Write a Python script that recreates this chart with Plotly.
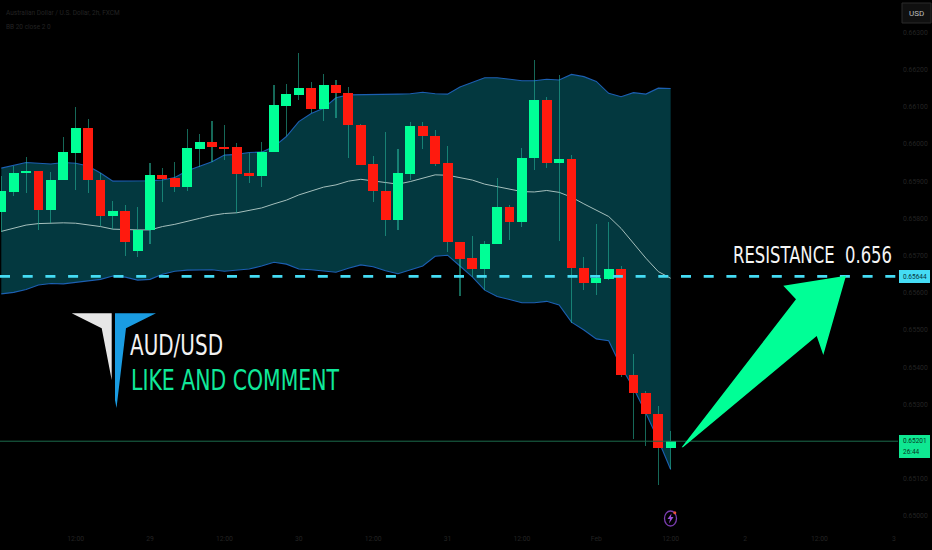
import plotly.graph_objects as go

# ---- data (AUD/USD, 2h) ----
opens = [.65817,.65872,.65921,.65927,.65822,.65902,.65976,.66043,.65904,.65806,.65819,.65712,.65768,.65917,.65909,
         .65885,.65986,.66004,.65993,.65991,.65921,.65914,.65978,.66102,.66132,.66151,.66095,.66159,.66138,.66051,
         .65945,.65874,.65796,.65919,.66049,.66022,.65950,.65737,.65693,.65663,.65731,.65830,.65791,.65961,.66117,
         .65950,.65960,.65667,.65625,.65636,.65664,.65379,.65330,.65273,.65184]
highs = [.65914,.65941,.65966,.65927,.65925,.66018,.66099,.66066,.65921,.65847,.65836,.65831,.65950,.65936,.65952,
         .66040,.66027,.66062,.66051,.66003,.65975,.66004,.66159,.66161,.66244,.66167,.66187,.66172,.66152,.66054,
         .65968,.66032,.65986,.66059,.66059,.66038,.65995,.65737,.65753,.65740,.65908,.65836,.65988,.66226,.66127,
         .66185,.65970,.65697,.65785,.65789,.65672,.65435,.65337,.65296,.65229]
lows = [.65764,.65861,.65868,.65769,.65787,.65902,.65876,.65867,.65780,.65771,.65700,.65695,.65731,.65843,.65871,
        .65874,.65937,.65952,.65957,.65815,.65896,.65884,.65978,.66022,.66118,.66083,.66063,.66069,.65961,.65944,
        .65845,.65753,.65769,.65903,.65986,.65941,.65709,.65591,.65643,.65607,.65731,.65742,.65776,.65930,.65936,
        .65740,.65519,.65607,.65594,.65634,.65374,.65207,.65188,.65083,.65125]
closes = [.65874,.65923,.65927,.65823,.65904,.65978,.66044,.65903,.65807,.65820,.65737,.65770,.65917,.65906,.65884,
          .65989,.66004,.65991,.65989,.65919,.65914,.65979,.66105,.66134,.66151,.66095,.66159,.66136,.66050,.65944,
          .65873,.65796,.65921,.66049,.66021,.65947,.65736,.65691,.65663,.65732,.65831,.65791,.65963,.66117,.65950,
          .65960,.65667,.65625,.65640,.65665,.65379,.65330,.65273,.65184,.65201]
bb_upper = [.65935,.65943,.65950,.65948,.65946,.65950,.65948,.65941,.65922,.65900,.65900,.65901,.65901,.65903,.65910,
            .65928,.65939,.65952,.65970,.65972,.65977,.65978,.65993,.66020,.66060,.66082,.66096,.66124,.66132,.66132,
            .66132,.66132,.66134,.66135,.66139,.66135,.66134,.66153,.66166,.66178,.66178,.66175,.66170,.66170,.66174,
            .66172,.66187,.66181,.66168,.66136,.66127,.66138,.66134,.66150,.66149]
bb_lower = [.65597,.65601,.65609,.65621,.65625,.65624,.65628,.65632,.65636,.65645,.65642,.65634,.65636,.65650,.65658,
            .65661,.65661,.65662,.65658,.65661,.65664,.65672,.65682,.65677,.65664,.65662,.65659,.65655,.65666,.65675,
            .65670,.65659,.65651,.65661,.65672,.65698,.65701,.65672,.65643,.65607,.65590,.65582,.65573,.65573,.65577,
            .65567,.65521,.65500,.65476,.65471,.65401,.65344,.65277,.65204,.65125]
bb_basis = [.65765,.65773,.65782,.65786,.65788,.65788,.65787,.65783,.65778,.65771,.65769,.65769,.65769,.65778,.65784,
            .65791,.65800,.65808,.65813,.65815,.65821,.65828,.65839,.65849,.65863,.65874,.65884,.65890,.65900,.65905,
            .65900,.65895,.65892,.65899,.65908,.65917,.65916,.65910,.65903,.65892,.65885,.65878,.65872,.65871,.65875,
            .65870,.65857,.65839,.65823,.65805,.65773,.65733,.65693,.65657,.65639]
bars = list(range(len(opens)))
time_tick_bars = [0, 6, 12, 18, 24, 30, 36, 42, 48, 54, 60, 66, 72]
time_tick_text = ["28", "12:00", "29", "12:00", "30", "12:00", "31", "12:00", "Feb", "12:00", "2", "12:00", "3"]
price_ticks = [.650, .651, .652, .653, .654, .655, .656, .657, .658, .659, .660, .661, .662, .663]
resistance = 0.65644
last_price = 0.65201

# ---- styling / layout ----
W, H = 932, 550
PLOT_W, PLOT_H = 898, 529
X_RANGE = [-0.105, 72.34]
Y_RANGE = [0.64965, 0.66387]
GREEN, RED = "#00ff96", "#ff1a0e"
TICK = "#232323"
CYAN = "#45dcf4"
CONDENSED = "DejaVu Sans Condensed"


def px(x):
    return x / PLOT_W


def py(y):
    return (PLOT_H - y) / PLOT_H


def path(points):
    return "M" + " L".join(f"{px(a):.5f},{py(b):.5f}" for a, b in points) + " Z"


def paper_shape(**kw):
    return dict(xref="paper", yref="paper", **kw)


fig = go.Figure()
fig.add_trace(go.Scatter(x=bars, y=bb_upper, mode="lines", line=dict(color="#1c5fb2", width=1.1), showlegend=False))
fig.add_trace(go.Scatter(x=bars, y=bb_lower, mode="lines", line=dict(color="#1c5fb2", width=1.1),
                         fill="tonexty", fillcolor="#03383f", showlegend=False))
fig.add_trace(go.Scatter(x=bars, y=bb_basis, mode="lines", line=dict(color="#a5bfbc", width=1), showlegend=False))

fig.add_trace(go.Bar(x=bars, base=lows, y=[h - l for h, l in zip(highs, lows)], width=0.09,
                     marker=dict(color="rgba(40,190,160,0.55)", line=dict(width=0)),
                     xaxis="x2", yaxis="y2", showlegend=False))
fig.add_trace(go.Bar(x=bars, base=[min(o, c) for o, c in zip(opens, closes)],
                     y=[abs(c - o) for o, c in zip(opens, closes)], width=0.8,
                     marker=dict(color=[GREEN if c >= o else RED for o, c in zip(opens, closes)], line=dict(width=0)),
                     xaxis="x2", yaxis="y2", showlegend=False))

shapes = [
    dict(type="line", xref="paper", x0=0, x1=1, yref="y", y0=last_price, y1=last_price,
         line=dict(color="#1b6b4c", width=1)),
    dict(type="line", xref="paper", x0=0, x1=1, yref="y", y0=resistance, y1=resistance,
         line=dict(color=CYAN, width=2.7, dash="10px,12.7px")),
    # up arrow
    paper_shape(type="path", fillcolor=GREEN, line=dict(width=0),
                path=path([(681.7, 447.3), (796, 299.3), (783.3, 285.7), (846, 275.7),
                           (823.3, 355), (816.7, 336), (683, 447.3)])),
    # logo
    paper_shape(type="path", fillcolor="#e6e6e6", line=dict(width=0),
                path=path([(71.7, 313.3), (111.7, 313.3), (111.7, 380), (101.7, 328.3)])),
    paper_shape(type="path", fillcolor="#1a9ce2", line=dict(width=0),
                path=path([(115, 313.3), (156, 313.3), (126, 328.3), (116.5, 408), (115, 400)])),
    # price labels and currency button
    paper_shape(type="rect", x0=px(899), x1=px(930), y0=py(283), y1=py(270), fillcolor=CYAN, line=dict(width=0)),
    paper_shape(type="rect", x0=px(899), x1=px(930), y0=py(458), y1=py(435), fillcolor="#0fe892", line=dict(width=0)),
    paper_shape(type="rect", x0=px(902), x1=px(931), y0=py(23), y1=py(3), fillcolor="#101010",
                line=dict(color="#2a2a2a", width=1)),
    # alert icon
    paper_shape(type="circle", x0=px(664.5), x1=px(676.5), y0=py(526), y1=py(511), fillcolor="rgba(0,0,0,0)",
                line=dict(color="#7a3db0", width=1.3)),
    paper_shape(type="path", fillcolor="#9a50d8", line=dict(width=0),
                path=path([(671.5, 513.5), (667.5, 519), (670, 519), (669, 523.5), (673.5, 517), (671, 517)])),
    paper_shape(type="circle", x0=px(673.3), x1=px(676.3), y0=py(514.3), y1=py(511.3), fillcolor="#e8503a",
                line=dict(width=0)),
]


def note(text, x, y, size, color, anchor="left", family=CONDENSED, align="center"):
    return dict(text=text, xref="paper", yref="paper", x=px(x), y=py(y), xanchor=anchor, yanchor="middle", align=align,
                showarrow=False, font=dict(size=size, color=color, family=family), borderpad=0)


annotations = [
    note("AUD/USD", 129, 345, 29, "#f2f2f2", align="left"),
    note("LIKE AND COMMENT", 130, 380, 29, "#10e89a", align="left"),
    note("RESISTANCE&nbsp;&nbsp;0.656", 732, 255, 23, "#f5f5f5", align="left"),
    note("Australian Dollar / U.S. Dollar, 2h, FXCM", 5, 13, 6.5, TICK, family="Roboto"),
    note("BB 20 close 2 0", 5, 27, 6.5, TICK, family="Roboto"),
    note("USD", 916.5, 13, 8, "#bdbdbd", "center", "Roboto"),
    note("0.65644", 915, 276.5, 6.5, "#06343c", "center", "Roboto"),
    note("0.65201", 915, 441, 6.5, "#06341f", "center", "Roboto"),
    note("26:44", 911, 452, 6.5, "#06341f", "center", "Roboto"),
]

axis_font = dict(size=6.8, color=TICK, family="Roboto")
fig.update_layout(
    width=W, height=H, autosize=False,
    margin=dict(l=0, r=W - PLOT_W, t=0, b=H - PLOT_H, pad=0),
    paper_bgcolor="#000000", plot_bgcolor="#000000",
    barmode="overlay", bargap=0, showlegend=False,
    xaxis=dict(range=X_RANGE, tickmode="array", tickvals=time_tick_bars, ticktext=time_tick_text,
               showgrid=False, zeroline=False, showline=False, ticks="", tickfont=axis_font, fixedrange=True,
               ticklabelstandoff=4),
    yaxis=dict(range=Y_RANGE, side="right", tickmode="array", tickvals=price_ticks,
               ticktext=[f"{v:.5f}" for v in price_ticks], showgrid=False, zeroline=False, showline=False,
               ticks="", tickfont=axis_font, fixedrange=True, ticklabelstandoff=4),
    xaxis2=dict(range=X_RANGE, overlaying="x", visible=False, fixedrange=True),
    yaxis2=dict(range=Y_RANGE, overlaying="y", visible=False, fixedrange=True),
    shapes=shapes, annotations=annotations,
)

# The reference lettering is tall and narrow; squeeze these real text labels to its measured widths.
narrow_js = """
document.body.style.margin='0';document.body.style.background='#000';
function squeeze(){
  var widths={'AUD/USD':93,'LIKE AND COMMENT':208,'RESISTANCE':159};
  document.querySelectorAll('.annotation-text').forEach(function(t){
    Object.keys(widths).forEach(function(k){
      if(t.textContent.indexOf(k)===0){
        t.setAttribute('textLength',widths[k]);
        t.setAttribute('lengthAdjust','spacingAndGlyphs');
      }
    });
  });
}
squeeze();setTimeout(squeeze,50);setTimeout(squeeze,300);
"""
fig.write_html("out.html", config={"displayModeBar": False}, post_script=narrow_js)
